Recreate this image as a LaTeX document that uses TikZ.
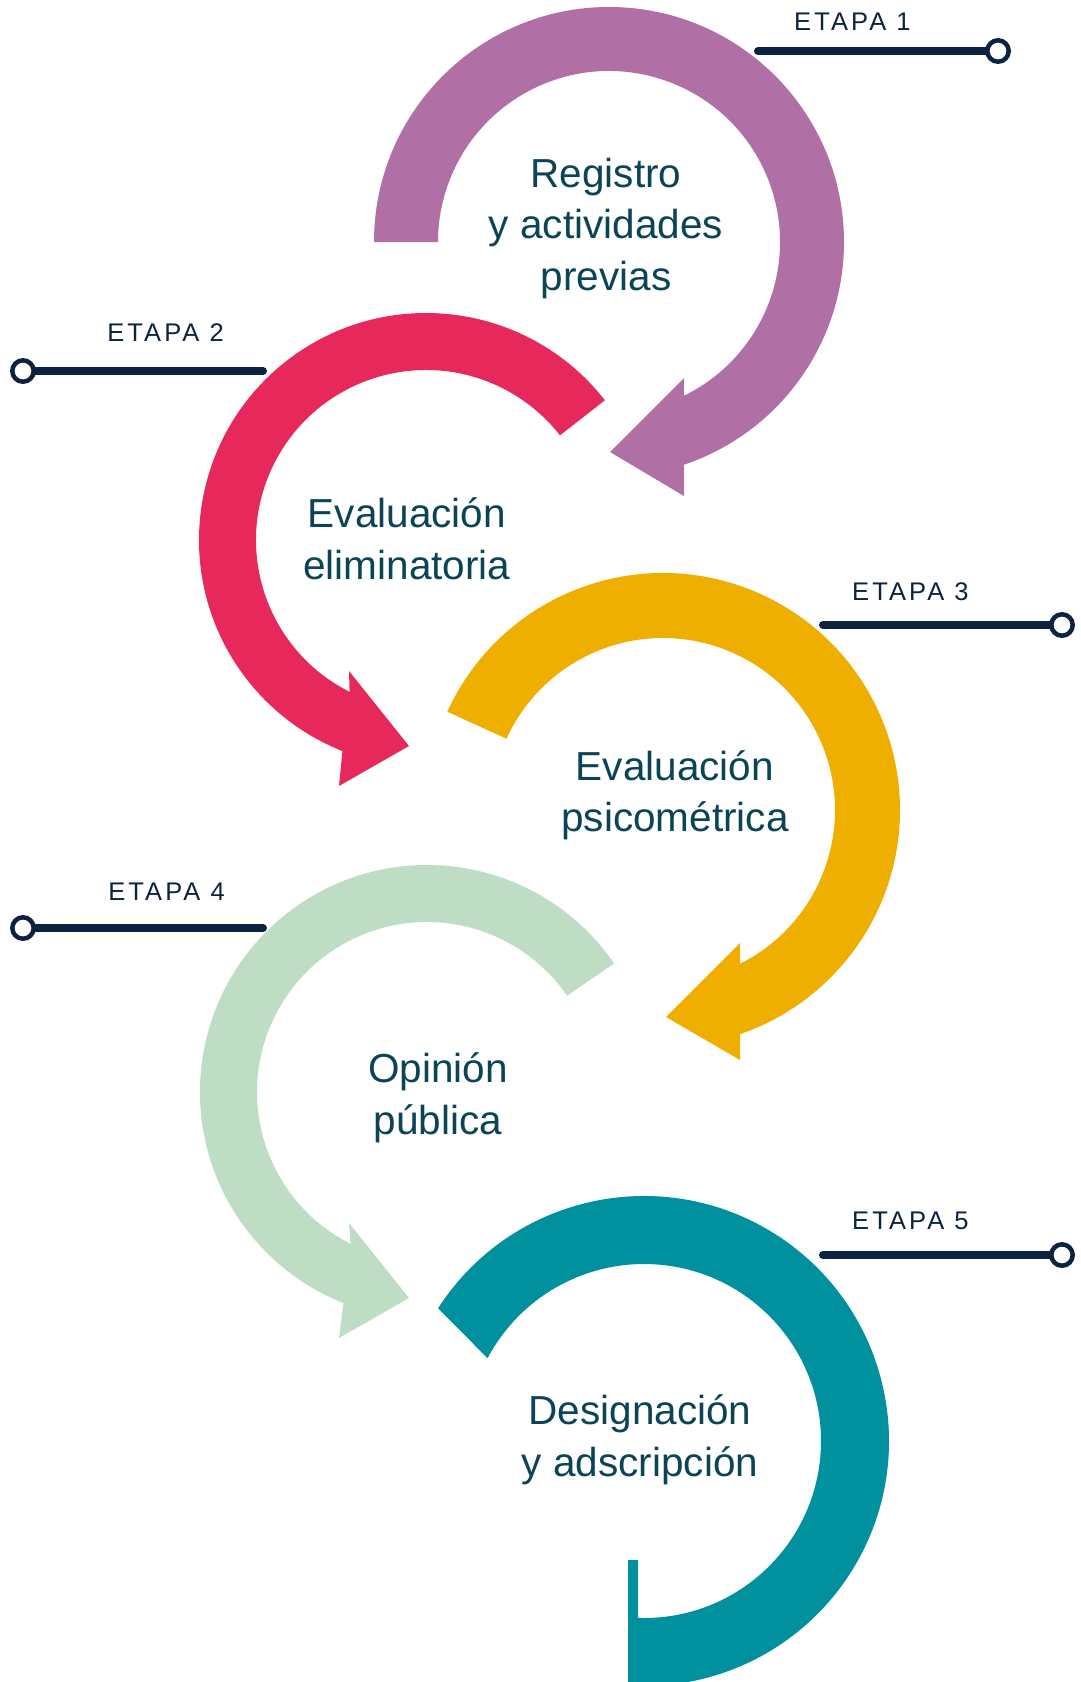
\documentclass[tikz,border=0pt]{standalone}
\usepackage{fontspec}
\setmainfont{Liberation Sans}
\newfontfamily\etapafont[LetterSpace=12]{Liberation Sans}
\definecolor{morado}{HTML}{B070A6}
\definecolor{rojo}{HTML}{E7285B}
\definecolor{amarillo}{HTML}{EEAF00}
\definecolor{verde}{HTML}{BEDDC4}
\definecolor{turquesa}{HTML}{01909E}
\definecolor{textoazul}{HTML}{0A4456}
\definecolor{marino}{HTML}{0B2240}
\begin{document}
\begin{tikzpicture}[x=1pt,y=1pt,
  etapaline/.style={marino,line width=8,line cap=round},
  etaparing/.style={draw=marino,fill=white,line width=4.5},
  etapa/.style={inner sep=0,text=marino,font=\etapafont\fontsize{25.5}{30}\selectfont},
  etiqueta/.style={align=center,inner sep=0,text=textoazul,font=\fontsize{40.5}{51.5}\selectfont}]
\useasboundingbox (0,0) rectangle (1080,-1682);
\fill[white] (0,0) rectangle (1080,-1682);
\clip (0,0) rectangle (1080,-1682);
% centros de las flechas
\coordinate (c1) at (609,-242);
\coordinate (c2) at (426,-540);
\coordinate (c3) at (663,-810);
\coordinate (c4) at (427,-1092);
\coordinate (c5) at (644,-1441);
% etapa 1
\fill[morado] ([shift={(180:235)}]c1) arc[start angle=180,end angle=-71.4,radius=235]
  -- (684,-496) -- (610,-452) -- (684,-378)
  -- ([shift={(-64:171)}]c1) arc[start angle=-64,end angle=180,radius=171] -- cycle;
% etapa 2
\fill[rojo] ([shift={(38:227)}]c2) arc[start angle=38,end angle=248.4,radius=227]
  -- (339,-786) -- (409,-746) -- (349,-671)
  -- ([shift={(243.3:170)}]c2) arc[start angle=243.3,end angle=38,radius=170] -- cycle;
% etapa 3
\fill[amarillo] ([shift={(155.5:237)}]c3) arc[start angle=155.5,end angle=-71,radius=237]
  -- (740,-1060) -- (666,-1017) -- (740,-943)
  -- ([shift={(-63.4:172)}]c3) arc[start angle=-63.4,end angle=155.5,radius=172] -- cycle;
% etapa 4
\fill[verde] ([shift={(34.5:227)}]c4) arc[start angle=34.5,end angle=248.4,radius=227]
  -- (339,-1338) -- (409,-1298) -- (349,-1223)
  -- ([shift={(243.3:170)}]c4) arc[start angle=243.3,end angle=34.5,radius=170] -- cycle;
% etapa 5
\fill[turquesa] ([shift={(147.2:245)}]c5) arc[start angle=147.2,end angle=-93.7,radius=245]
  -- (628,-1560) -- (638,-1560)
  -- ([shift={(-91.94:177)}]c5) arc[start angle=-91.94,end angle=152.1,radius=177] -- cycle;
% textos
\node[etiqueta] (registro) at (606,-228.25) {\strut Registro\\\strut y actividades\\\strut previas};
\node[etiqueta] (eliminatoria) at (407,-543.25) {\strut Evaluación\\\strut eliminatoria};
\node[etiqueta] (psicometrica) at (675,-795.75) {\strut Evaluación\\\strut psicométrica};
\node[etiqueta] (opinion) at (438,-1098.25) {\strut Opinión\\\strut pública};
\node[etiqueta] (designacion) at (640,-1440.25) {\strut Designación\\\strut y adscripción};
% lineas de etapa
\foreach \n/\xa/\xb/\y in {1/758/998/51,2/263/23/371,3/823/1062/625,4/263/23/928,5/823/1062/1255}{
  \coordinate (l\n) at (\xa,-\y);
  \coordinate (o\n) at (\xb,-\y);
  \draw[etapaline] (l\n) -- (o\n);
  \draw[etaparing] (o\n) circle[radius=10.7];
}
\node[etapa,anchor=base west] (et1) at (794,-30.7) {ETAPA 1};
\node[etapa,anchor=base east] (et2) at (224,-341.7) {ETAPA 2};
\node[etapa,anchor=base west] (et3) at (852,-600) {ETAPA 3};
\node[etapa,anchor=base east] (et4) at (225,-900) {ETAPA 4};
\node[etapa,anchor=base west] (et5) at (852,-1229) {ETAPA 5};
\end{tikzpicture}
\end{document}
